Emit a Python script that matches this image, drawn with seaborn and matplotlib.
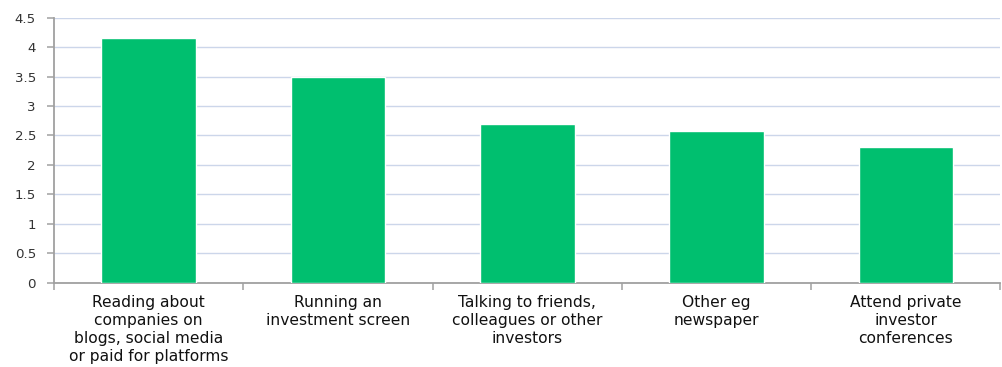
import matplotlib
matplotlib.use("Agg")
import matplotlib.pyplot as plt
import seaborn as sns
import pandas as pd

# Average rating per research method
categories = [
    "Reading about\ncompanies on\nblogs, social media\nor paid for platforms",
    "Running an\ninvestment screen",
    "Talking to friends,\ncolleagues or other\ninvestors",
    "Other eg\nnewspaper",
    "Attend private\ninvestor\nconferences",
]
values = [4.15, 3.5, 2.7, 2.57, 2.3]
y_ticks = [0, 0.5, 1, 1.5, 2, 2.5, 3, 3.5, 4, 4.5]
y_tick_labels = ["0", "0.5", "1", "1.5", "2", "2.5", "3", "3.5", "4", "4.5"]

sns.set_theme(style="white")
plt.rcParams["font.family"] = ["DejaVu Sans"]

df = pd.DataFrame({"method": categories, "score": values})

fig = plt.figure(figsize=(10.03, 3.67), dpi=100)
ax = fig.add_axes([0.0538, 0.2302, 0.9437, 0.7216])

sns.barplot(data=df, x="method", y="score", color="#00BF6F", width=0.5,
            saturation=1, ax=ax, zorder=3)

ax.set_xlim(-0.5, len(categories) - 0.5)
ax.set_ylim(0, 4.5)
ax.set_xlabel("")
ax.set_ylabel("")

# Horizontal gridlines
ax.set_yticks(y_ticks)
ax.set_yticklabels(y_tick_labels, fontsize=9.6, color="#333333")
ax.yaxis.grid(True, color="#CCD6EA", linewidth=1.0, zorder=0)
ax.xaxis.grid(False)

# Category labels centred, boundary ticks between categories
ax.set_xticks(range(len(categories)))
ax.set_xticklabels(categories, fontsize=11.2, color="#111111",
                   multialignment="center", linespacing=1.25)
ax.set_xticks([i - 0.5 for i in range(len(categories) + 1)], minor=True)
ax.tick_params(axis="x", which="major", length=0, pad=9)
ax.tick_params(axis="x", which="minor", length=5, width=1.1,
               color="#A0A0A0", direction="out", bottom=True)
ax.tick_params(axis="y", which="major", length=5, width=1.1,
               color="#A0A0A0", direction="out", left=True, pad=8)

for side in ["top", "right"]:
    ax.spines[side].set_visible(False)
for side in ["left", "bottom"]:
    ax.spines[side].set_color("#A0A0A0")
    ax.spines[side].set_linewidth(1.3)

fig.savefig("out.png", dpi=100, facecolor="white")
